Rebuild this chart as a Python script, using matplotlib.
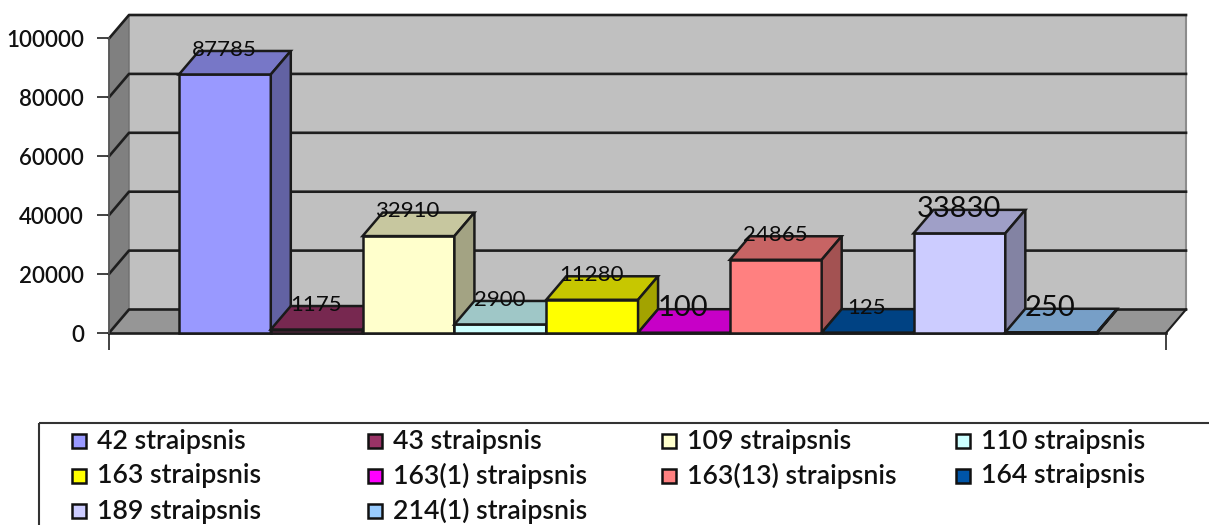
import matplotlib
matplotlib.use('Agg')
import matplotlib.pyplot as plt
from matplotlib.colors import to_rgb
from matplotlib.patches import Rectangle

plt.rcParams['font.family'] = ['Lato', 'DejaVu Sans']

# values
categories = ['42 straipsnis', '43 straipsnis', '109 straipsnis', '110 straipsnis',
              '163 straipsnis', '163(1) straipsnis', '163(13) straipsnis', '164 straipsnis',
              '189 straipsnis', '214(1) straipsnis']
values = [87785, 1175, 32910, 2900, 11280, 100, 24865, 125, 33830, 250]
colors = ['#9999FF', '#993366', '#FFFFCC', '#CCFFFF', '#FFFF00',
          '#FF00FF', '#FF8080', '#0055A8', '#CCCCFF', '#99CCFF']
label_sizes = [16, 16, 16, 16, 16, 21, 16, 16, 21, 21]
yticks = [0, 20000, 40000, 60000, 80000, 100000]

W, H = 1209, 525
fig = plt.figure(figsize=(W / 100, H / 100), dpi=100, facecolor='white')

# front plane of the 3d box
ax = fig.add_axes([109 / W, (H - 333) / H, 1057 / W, 294.5 / H])
x0, x1 = -1.262, 10.25
ymax = 100000
ax.set_xlim(x0, x1)
ax.set_ylim(0, ymax)

# depth of the box in data units
dx = 20 / 91.8
dy = 23.5 / 294.5 * ymax
edge = '#1a1a1a'


def shade(c, k):
    r, g, b = to_rgb(c)
    return (r * k, g * k, b * k)


def poly(xs, ys, fc, ec=edge, lw=1.8, z=2):
    ax.fill(xs, ys, fc=fc, ec=ec, lw=lw, clip_on=False, zorder=z, joinstyle='miter')


# walls and floor
poly([x0 + dx, x1 + dx, x1 + dx, x0 + dx], [dy, dy, ymax + dy, ymax + dy], '#C0C0C0', ec='none', z=1)
poly([x0, x0 + dx, x0 + dx, x0], [0, dy, ymax + dy, ymax], '#808080', ec='#707070', lw=1, z=1)
poly([x0, x1, x1 + dx, x0 + dx], [0, 0, dy, dy], '#969696', ec='none', z=1)
ax.plot([x1 + dx, x1 + dx], [dy, ymax + dy], color='#8c8c8c', lw=1.5, clip_on=False, zorder=1)

# gridlines on back wall and side wall
for t in yticks:
    ax.plot([x0, x0 + dx, x1 + dx], [t, t + dy, t + dy], color='#1e1e1e', lw=1.9,
            clip_on=False, zorder=1.5)
ax.plot([x0, x1], [0, 0], color='#1e1e1e', lw=1.9, clip_on=False, zorder=1.5)
ax.plot([x1, x1 + dx], [0, dy], color='#1e1e1e', lw=1.5, clip_on=False, zorder=1.5)

# bars, left to right
for i, v in enumerate(values):
    l, r = i - 0.5, i + 0.5
    z = 2 + i * 0.1
    poly([l, r, r, l], [0, 0, v, v], colors[i], z=z)
    poly([l, r, r + dx, l + dx], [v, v, v + dy, v + dy], shade(colors[i], 0.78), z=z)
    poly([r, r + dx, r + dx, r], [0, dy, v + dy, v], shade(colors[i], 0.64), z=z)

for i, v in enumerate(values):
    ax.text(i - 0.01, v + 8400, str(v), ha='center', va='center', fontsize=label_sizes[i],
            color='#0c0c0c', zorder=5, clip_on=False)

for s in ax.spines.values():
    s.set_visible(False)
ax.patch.set_visible(False)
ax.set_yticks(yticks)
ax.set_yticklabels([])
ax.set_xticks([x0, x1])
ax.set_xticklabels([])
ax.tick_params(axis='y', length=9, width=1.2, color='#222222')
ax.tick_params(axis='x', length=12, width=1.2, color='#222222')
# tick labels sit slightly under their ticks in the original
for t in yticks:
    ax.annotate(str(t), (x0, t), xytext=(-18, -1.5), textcoords='offset points', ha='right',
                va='center', fontsize=16, fontweight='semibold', color='#111111',
                annotation_clip=False)
ax.plot([x0, x0], [0, ymax], color='#555555', lw=1.2, clip_on=False, zorder=1.6)

# legend box runs off the right and bottom of the image
leg = fig.add_axes([0, 0, 1, 1], facecolor='none')
leg.set_xlim(0, W)
leg.set_ylim(H, 0)
leg.axis('off')
leg.add_patch(Rectangle((39, 423), W, H, fc='none', ec='#333333', lw=1.5))
col_x = [72, 368, 662, 956]
row_y = [441, 476, 511]
for i, name in enumerate(categories):
    cx = col_x[i % 4]
    cy = row_y[i // 4]
    leg.add_patch(Rectangle((cx, cy - 7), 14, 14, fc=colors[i], ec='#111111', lw=1.8))
    leg.text(cx + 25, cy, name, ha='left', va='center', fontsize=19.2, fontweight='semibold', color='#111111')

fig.savefig('out.png', dpi=100)
